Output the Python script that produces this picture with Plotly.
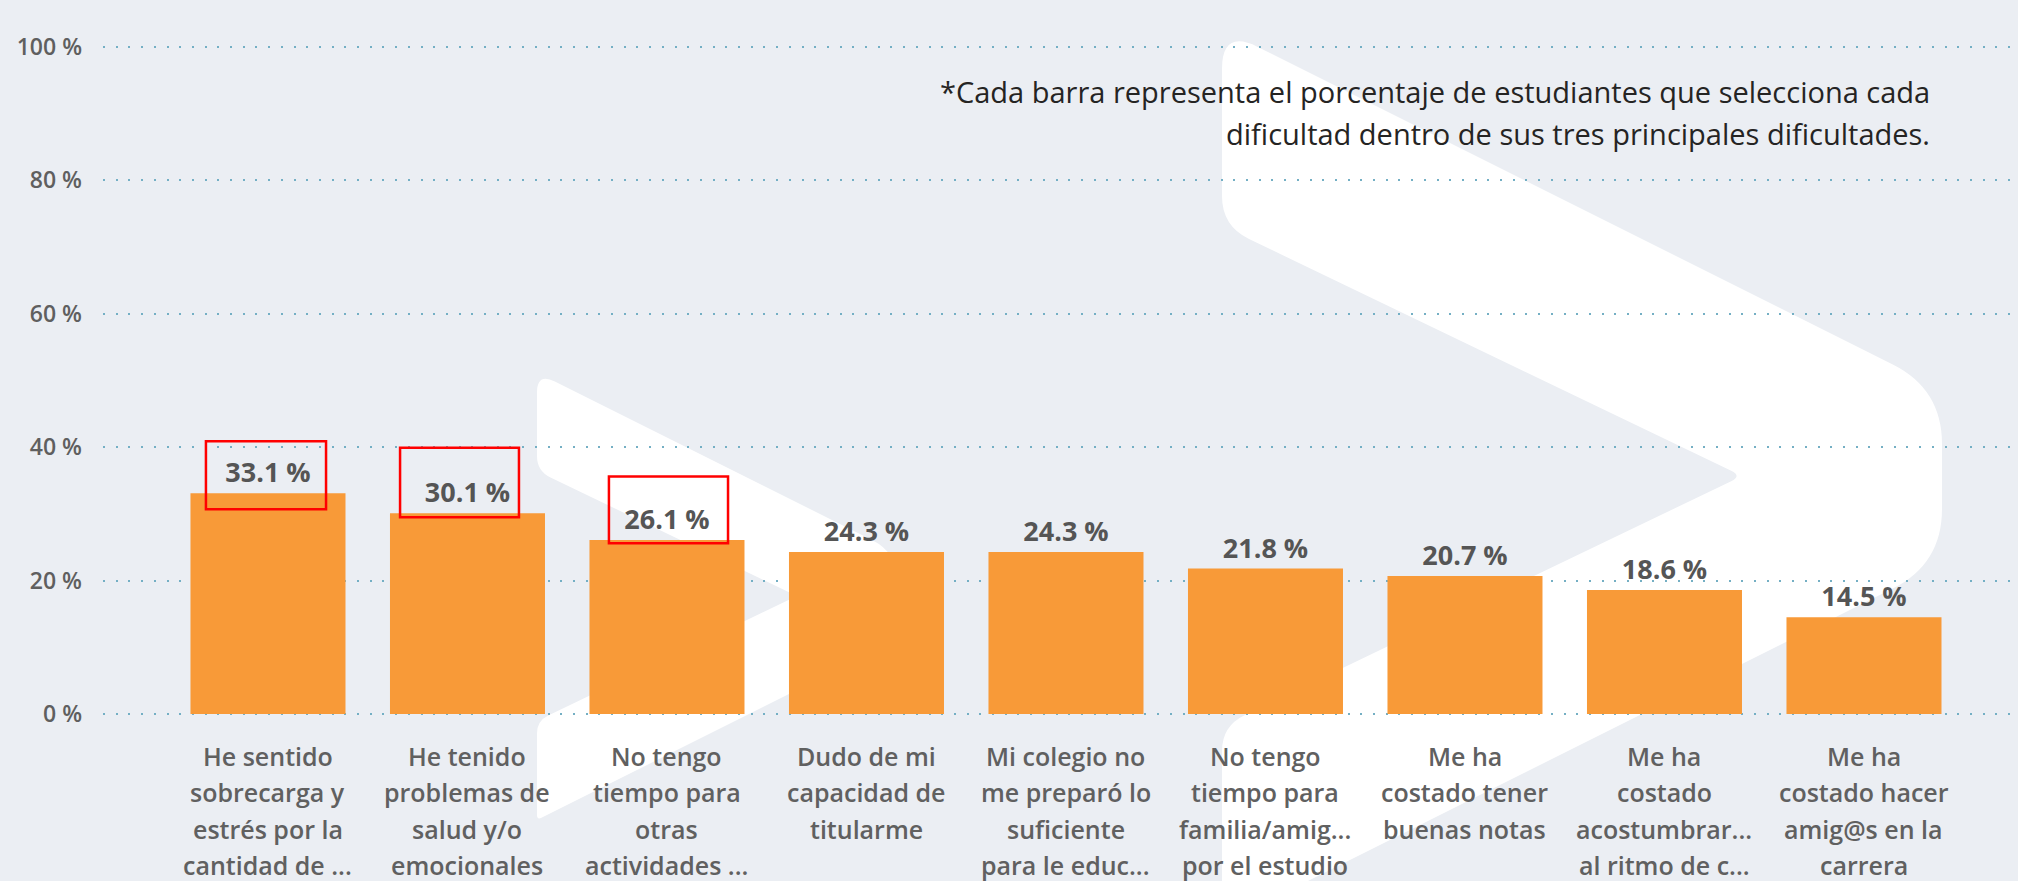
import plotly.graph_objects as go

# ---------------- data ----------------
label_lines = [
    ["He sentido", "sobrecarga y", "estrés por la", "cantidad de ..."],
    ["He tenido", "problemas de", "salud y/o", "emocionales"],
    ["No tengo", "tiempo para", "otras", "actividades ..."],
    ["Dudo de mi", "capacidad de", "titularme"],
    ["Mi colegio no", "me preparó lo", "suficiente", "para le educ..."],
    ["No tengo", "tiempo para", "familia/amig...", "por el estudio"],
    ["Me ha", "costado tener", "buenas notas"],
    ["Me ha", "costado", "acostumbrar...", "al ritmo de c..."],
    ["Me ha", "costado hacer", "amig@s en la", "carrera"],
]
values = [33.1, 30.1, 26.1, 24.3, 24.3, 21.8, 20.7, 18.6, 14.5]
y_ticks = [0, 20, 40, 60, 80, 100]
note_lines = [
    "*Cada barra representa el porcentaje de estudiantes que selecciona cada",
    "dificultad dentro de sus tres principales dificultades.",
]
highlighted = [0, 1, 2]  # bars whose value labels are boxed in red

categories = [" ".join(l) for l in label_lines]
idx = list(range(len(categories)))

# ---------------- layout geometry ----------------
W, H = 2018, 881
ML, MR, MT, MB = 103, 0, 43, 163
PW, PH = W - ML - MR, H - MT - MB
Y_LO, Y_HI = -0.6, 100.6

BG = "#EBEEF3"
BAR = "#F89A38"
GRID = "#74AFC4"
FONT = "Open Sans"


def to_paper(px, py):
    return (px - ML) / PW, (H - MB - py) / PH


def chevron_path(ox, oy, s):
    # watermark ">" outline (template in px at scale 1), corners rounded
    pts = [(0, -19), (720, 341), (720, 516), (0, 876), (0, 678), (520, 428), (0, 178)]
    radii = [40, 55, 55, 10, 25, 12, 30]
    P = [(ox + x * s, oy + y * s) for x, y in pts]
    n = len(P)
    segs = []
    for i in range(n):
        vx, vy = P[i]
        px_, py_ = P[i - 1]
        nx, ny = P[(i + 1) % n]
        r = radii[i] * s
        dp = ((px_ - vx) ** 2 + (py_ - vy) ** 2) ** 0.5
        dn = ((nx - vx) ** 2 + (ny - vy) ** 2) ** 0.5
        a = (vx + r * (px_ - vx) / dp, vy + r * (py_ - vy) / dp)
        b = (vx + r * (nx - vx) / dn, vy + r * (ny - vy) / dn)
        segs.append((a, (vx, vy), b))
    d = ""
    for i, (a, v, b) in enumerate(segs):
        A, V, B = to_paper(*a), to_paper(*v), to_paper(*b)
        d += ("M" if i == 0 else "L") + f"{A[0]:.5f},{A[1]:.5f} "
        d += f"Q{V[0]:.5f},{V[1]:.5f} {B[0]:.5f},{B[1]:.5f} "
    return d + "Z"


fig = go.Figure()
fig.add_trace(
    go.Bar(
        x=idx,
        y=values,
        marker=dict(color=BAR, line=dict(width=0)),
        texttemplate="%{y:.1f} %",
        textposition="outside",
        textfont=dict(family=FONT, size=27, color="#555555", weight="bold"),
        cliponaxis=False,
        hoverinfo="skip",
    )
)

shapes = []
for ox, oy, s in [(1222, 48, 1.0), (537, 382, 0.5)]:
    shapes.append(
        dict(type="path", path=chevron_path(ox, oy, s), xref="paper", yref="paper",
             fillcolor="#FFFFFF", line=dict(width=0), layer="below")
    )
# red highlight boxes around the first value labels
box_offsets = [(-0.311, 0.291, -2.4, 7.8), (-0.338, 0.258, -0.6, 9.8), (-0.291, 0.306, -0.5, 9.5)]
for i, (dx0, dx1, dy0, dy1) in zip(highlighted, box_offsets):
    shapes.append(
        dict(type="rect", xref="x", yref="y", x0=i + dx0, x1=i + dx1,
             y0=values[i] + dy0, y1=values[i] + dy1,
             line=dict(color="#FF0000", width=2.5), fillcolor="rgba(0,0,0,0)", layer="above")
    )

annotations = []
LINE_H = 36.3
for i, lines in enumerate(label_lines):
    for k, t in enumerate(lines):
        _, yp = to_paper(0, 756 + LINE_H * k)
        annotations.append(
            dict(x=i, y=yp, xref="x", yref="paper", text=t, showarrow=False,
                 xanchor="center", yanchor="middle",
                 font=dict(family=FONT, size=25, color="#606060", weight=600))
        )
for k, t in enumerate(note_lines):
    xp, yp = to_paper(1932, 92 + 41 * k)
    annotations.append(
        dict(x=xp, y=yp, xref="paper", yref="paper", text=t, showarrow=False,
             xanchor="right", yanchor="middle",
             font=dict(family=FONT, size=29, color="#252423"))
    )

fig.update_layout(
    width=W,
    height=H,
    margin=dict(l=ML, r=MR, t=MT, b=MB, pad=0),
    paper_bgcolor=BG,
    plot_bgcolor="rgba(0,0,0,0)",
    showlegend=False,
    bargap=0.223,
    shapes=shapes,
    annotations=annotations,
    xaxis=dict(
        range=[-0.827, 8.772],
        showticklabels=False,
        showgrid=False,
        zeroline=False,
        ticks="",
        fixedrange=True,
    ),
    yaxis=dict(
        range=[Y_LO, Y_HI],
        tickvals=y_ticks,
        ticktext=[f"{v} %" for v in y_ticks],
        showgrid=True,
        gridcolor=GRID,
        gridwidth=2,
        griddash="2px,10.7px",
        zeroline=False,
        ticks="",
        ticklabelstandoff=20,
        tickfont=dict(family=FONT, size=23, color="#5F5F5F", weight=600),
        fixedrange=True,
    ),
)

fig.write_html("out.html")
